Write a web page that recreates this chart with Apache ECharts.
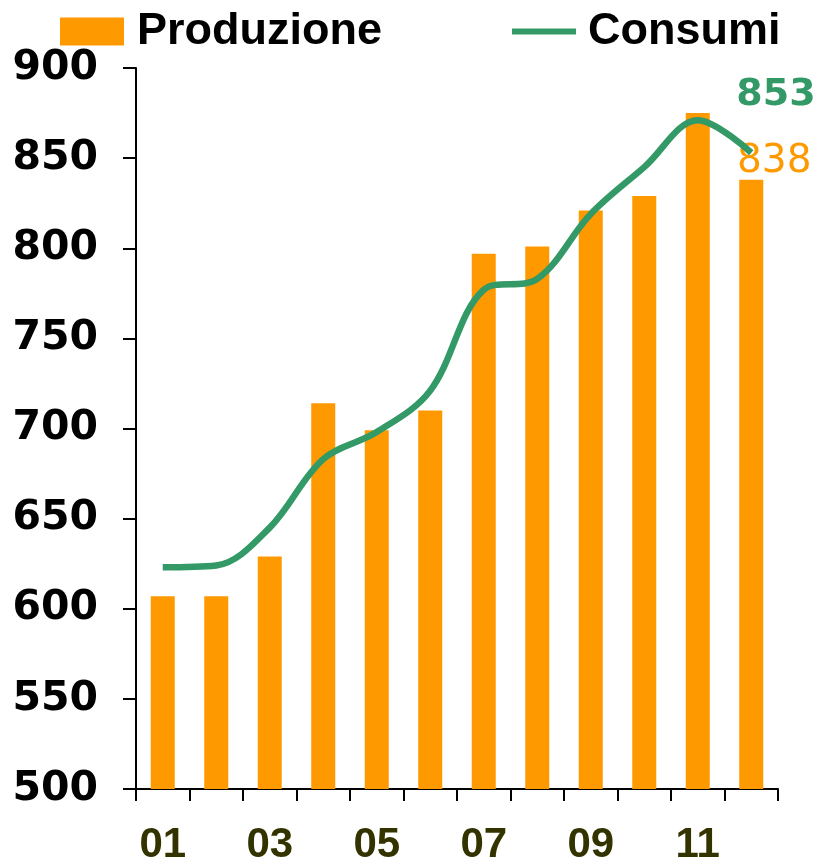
<!DOCTYPE html>
<html>
<head>
<meta charset="utf-8">
<script src="https://cdn.jsdelivr.net/npm/echarts@6/dist/echarts.min.js"></script>
<style>html,body{margin:0;padding:0;background:#fff;}#c{width:819px;height:866px;}</style>
</head>
<body>
<div id="c"></div>
<script>
var categories = ['01','02','03','04','05','06','07','08','09','10','11','12'];
var produzione = [607, 607, 629, 714, 699, 710, 797, 801, 821, 829, 875, 838];
var consumi = [623, 624, 645, 683, 698, 721, 777, 783, 819, 845, 871, 853];
var yTicks = {min: 500, max: 900, interval: 50};

var chart = echarts.init(document.getElementById('c'));
var last = categories.length - 1;
var barData = produzione.map(function (v, i) {
  if (i === last) {
    return {value: v, label: {show: true, position: 'top', distance: 0, offset: [23, 2],
      color: '#FF9900', fontFamily: 'DejaVu Sans', fontSize: 39, fontWeight: 'normal'}};
  }
  return v;
});

var legendText = {fontFamily: 'Liberation Sans', fontSize: 45, fontWeight: 'bold', color: '#000'};

chart.setOption({
  animation: false,
  backgroundColor: '#ffffff',
  legend: [
    {left: 60, top: 9, padding: 0, itemWidth: 64, itemHeight: 28,
      textStyle: Object.assign({padding: [0, 0, 0, 8]}, legendText),
      data: [{name: 'Produzione', icon: 'rect'}]},
    {left: 512, top: 9, padding: 0, itemWidth: 64, itemHeight: 6,
      textStyle: Object.assign({padding: [0, 0, 0, 7]}, legendText),
      data: [{name: 'Consumi', icon: 'rect', itemStyle: {color: '#339966'}}]}
  ],
  grid: {left: 136, right: 41, top: 68, bottom: 74, containLabel: false},
  xAxis: {
    type: 'category',
    data: categories,
    boundaryGap: true,
    axisLine: {lineStyle: {color: '#000', width: 2}},
    axisTick: {show: true, length: 12, lineStyle: {color: '#000', width: 2}, interval: 0},
    axisLabel: {interval: 1, margin: 35, fontFamily: 'Liberation Sans', fontSize: 42, fontWeight: 'bold', color: '#333300'}
  },
  yAxis: {
    type: 'value',
    min: yTicks.min, max: yTicks.max, interval: yTicks.interval,
    axisLine: {show: true, lineStyle: {color: '#000', width: 2}},
    axisTick: {show: true, length: 13, lineStyle: {color: '#000', width: 2}},
    splitLine: {show: false},
    axisLabel: {margin: 38, fontFamily: 'DejaVu Sans', fontSize: 41, fontWeight: 'bold', color: '#000'}
  },
  series: [
    {name: 'Produzione', type: 'bar', data: barData, barWidth: 24,
      itemStyle: {color: '#FF9900'}},
    {name: 'Consumi', type: 'line', data: consumi, smooth: 0.35,
      symbol: 'none', lineStyle: {color: '#339966', width: 6.5}, itemStyle: {color: '#339966'}, z: 3,
      endLabel: {show: true, offset: [-23, -58], color: '#339966', fontFamily: 'DejaVu Sans', fontSize: 38, fontWeight: 'bold'}}
  ]
});
</script>
</body>
</html>
